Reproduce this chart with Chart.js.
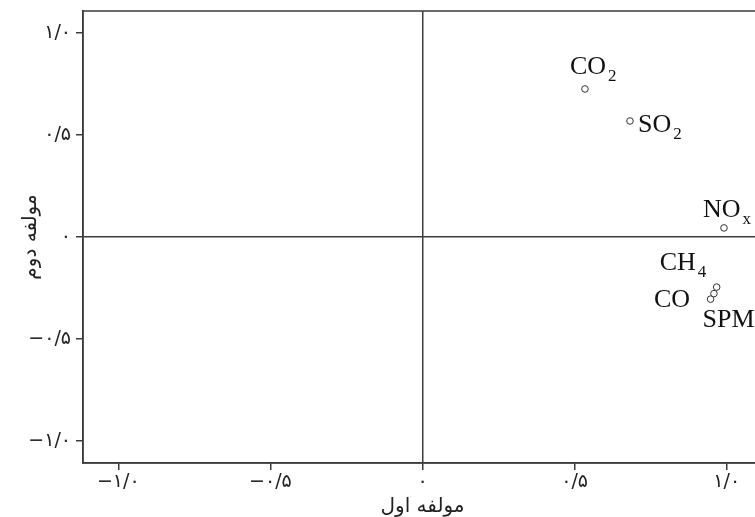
<!DOCTYPE html>
<html>
<head>
<meta charset="utf-8">
<script src="https://cdn.jsdelivr.net/npm/chart.js@4/dist/chart.umd.min.js"></script>
<style>
  html, body { margin: 0; padding: 0; background: #fff; overflow: hidden; }
  #wrap { position: relative; width: 780px; height: 517px; }
</style>
</head>
<body>
<div id="wrap"><canvas id="c"></canvas></div>
<script>
// ---- data ----
const variables = ['CO2', 'SO2', 'NOx', 'CH4', 'CO', 'SPM'];
const labelMain = ['CO', 'SO', 'NO', 'CH', 'CO', 'SPM'];
const labelSub  = ['2', '2', 'x', '4', '', ''];
const component1 = [0.534, 0.682, 0.991, 0.967, 0.958, 0.947];
const component2 = [0.724, 0.567, 0.043, -0.247, -0.279, -0.306];
const tickValues = [-1, -0.5, 0, 0.5, 1];
const tickLabels = ['−۱/۰', '−۰/۵', '۰', '۰/۵', '۱/۰'];
const xTitle = 'مولفه اول';
const yTitle = 'مولفه دوم';

// ---- presentation ----
const LINE = '#3c3c3c';
const labelOffsets = [[-15, -15], [8, 11], [-21, -11], [-57, -17], [-60, 13], [-8, 28]];

const framePlugin = {
  id: 'frame',
  afterDraw(chart) {
    const { ctx, chartArea: a } = chart;
    ctx.save();
    ctx.strokeStyle = LINE;
    ctx.lineWidth = 1.5;
    ctx.strokeRect(a.left, a.top, a.right - a.left, a.bottom - a.top);
    ctx.restore();
  }
};

const labelPlugin = {
  id: 'pointLabels',
  afterDatasetsDraw(chart) {
    const { ctx } = chart;
    const meta = chart.getDatasetMeta(0);
    ctx.save();
    ctx.fillStyle = '#111';
    ctx.textBaseline = 'alphabetic';
    ctx.textAlign = 'left';
    meta.data.forEach((pt, i) => {
      const [dx, dy] = labelOffsets[i];
      const x = pt.x + dx, y = pt.y + dy;
      ctx.font = '26px "Liberation Serif", "Times New Roman", serif';
      ctx.fillText(labelMain[i], x, y);
      const w = ctx.measureText(labelMain[i]).width;
      if (labelSub[i]) {
        ctx.font = '17px "Liberation Serif", "Times New Roman", serif';
        ctx.fillText(labelSub[i], x + w + 2, y + 7);
      }
    });
    ctx.restore();
  }
};

function tickLabel(v) {
  const i = tickValues.findIndex(t => Math.abs(t - v) < 1e-9);
  return i >= 0 ? tickLabels[i] : '';
}

const gridCfg = {
  color: (c) => (c.tick && Math.abs(c.tick.value) < 1e-9) ? LINE : 'rgba(0,0,0,0)',
  tickColor: LINE,
  lineWidth: 1.5,
  tickWidth: 1.5,
  tickLength: 7,
  drawTicks: true
};

function zeroPad(s) { s.paddingTop = 0; s.paddingBottom = 0; s.paddingLeft = 0; s.paddingRight = 0; }

new Chart(document.getElementById('c'), {
  type: 'scatter',
  data: {
    datasets: [{
      label: 'loadings',
      data: variables.map((v, i) => ({ x: component1[i], y: component2[i] })),
      pointStyle: 'circle',
      pointRadius: 3.3,
      pointHoverRadius: 3.3,
      borderColor: '#333',
      borderWidth: 1,
      backgroundColor: '#fff'
    }]
  },
  options: {
    responsive: true,
    maintainAspectRatio: false,
    animation: false,
    devicePixelRatio: 1,
    layout: { padding: { left: 0, top: 11, right: 18, bottom: 0 } },
    plugins: { legend: { display: false }, tooltip: { enabled: false } },
    scales: {
      x: {
        type: 'linear',
        min: -1.116, max: 1.116,
        afterBuildTicks: (s) => { s.ticks = tickValues.map(v => ({ value: v })); },
        afterFit: (s) => { s.height = 54; zeroPad(s); },
        grid: gridCfg,
        border: { display: true, color: LINE, width: 1.5 },
        ticks: {
          callback: (v) => tickLabel(v),
          color: '#222',
          font: { family: '"DejaVu Sans", sans-serif', size: 19 },
          padding: 1,
          maxRotation: 0, autoSkip: false
        },
        title: {
          display: true, text: xTitle, color: '#222',
          font: { family: '"DejaVu Sans", sans-serif', size: 20, lineHeight: 1.0 },
          padding: { top: 0, bottom: 0 }
        }
      },
      y: {
        type: 'linear',
        min: -1.109, max: 1.106,
        afterBuildTicks: (s) => { s.ticks = tickValues.map(v => ({ value: v })); },
        afterFit: (s) => { s.width = 83; zeroPad(s); },
        grid: gridCfg,
        border: { display: true, color: LINE, width: 1.5 },
        ticks: {
          callback: (v) => tickLabel(v),
          color: '#222',
          font: { family: '"DejaVu Sans", sans-serif', size: 19 },
          padding: 5,
          autoSkip: false
        },
        title: {
          display: true, text: yTitle, color: '#222',
          font: { family: '"DejaVu Sans", sans-serif', size: 20 },
          padding: { top: 19, bottom: 0 }
        }
      }
    }
  },
  plugins: [framePlugin, labelPlugin]
});
</script>
</body>
</html>
